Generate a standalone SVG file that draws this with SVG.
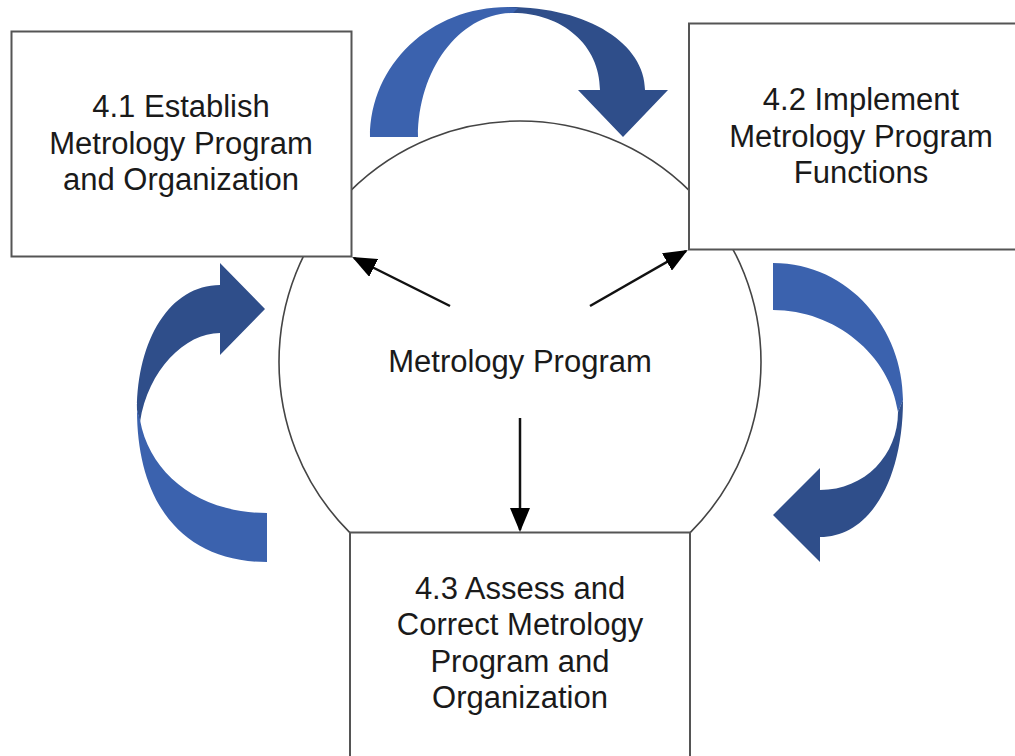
<svg xmlns="http://www.w3.org/2000/svg" width="1015" height="756" viewBox="0 0 1015 756">
<style>
.box{fill:#fff;stroke:#555;stroke-width:2}
.lbl{font-family:"Liberation Sans",Arial,sans-serif;font-size:31px;fill:#1a1a1a;text-anchor:middle}
.conn{stroke:#111;stroke-width:2.5;fill:none}
.light{fill:#3B62AE}
.dark{fill:#2F4E8A}
</style>
<defs>
<marker id="ah" viewBox="0 0 24 20" refX="22" refY="10" markerWidth="24" markerHeight="20" markerUnits="userSpaceOnUse" orient="auto">
<path d="M0,0 L24,10 L0,20 Z" fill="#000"/>
</marker>
</defs>
<rect width="1015" height="756" fill="#fff"/>
<g id="program">
<circle cx="520" cy="362" r="241" fill="#fff" stroke="#444" stroke-width="1.6"/>
<text class="lbl" x="520" y="372">Metrology Program</text>
</g>
<g id="node41">
<rect class="box" x="11.5" y="31.5" width="340" height="225"/>
<text class="lbl" x="181" y="117">4.1 Establish</text>
<text class="lbl" x="181" y="154">Metrology Program</text>
<text class="lbl" x="181" y="190">and Organization</text>
</g>
<g id="node42">
<rect class="box" x="689" y="23.5" width="345" height="226"/>
<text class="lbl" x="861" y="110">4.2 Implement</text>
<text class="lbl" x="861" y="147">Metrology Program</text>
<text class="lbl" x="861" y="183">Functions</text>
</g>
<g id="node43">
<rect class="box" x="350" y="532.5" width="340" height="240"/>
<text class="lbl" x="520" y="599">4.3 Assess and</text>
<text class="lbl" x="520" y="635">Correct Metrology</text>
<text class="lbl" x="520" y="672">Program and</text>
<text class="lbl" x="520" y="708">Organization</text>
</g>
<g id="connectors">
<line class="conn" x1="450" y1="306" x2="354" y2="258" marker-end="url(#ah)"/>
<line class="conn" x1="590" y1="306" x2="686" y2="251" marker-end="url(#ah)"/>
<line class="conn" x1="520" y1="418" x2="520" y2="530" marker-end="url(#ah)"/>
</g>
<g id="cycle-arrows">
<path class="dark" d="M508,7 C590,7 645,45 645,90 L668,90 L623,137 L578,90 L600,90 C600,45 562,13 513,13 Z"/>
<path class="light" d="M370,137 C370,65 430,7 508,7 L518,8 L513,13 C460,13 418,69 418,137 Z"/>
<path class="light" d="M773,263 C850,263 903,330 903,400 L898,412 C890,355 835,310 773,310 Z"/>
<path class="dark" d="M903,400 C903,480 870,537 820,537 L820,562 L773,515 L820,468 L820,490 C865,490 898,455 898,412 Z"/>
<path class="dark" d="M220,263 L265,309 L220,355 L220,333 C185,333 148,370 140,422 L137,410 C137,340 170,285 220,285 Z"/>
<path class="light" d="M137,410 C137,500 180,562 267,562 L267,513 C200,513 150,475 140,420 Z"/>
</g>
</svg>
